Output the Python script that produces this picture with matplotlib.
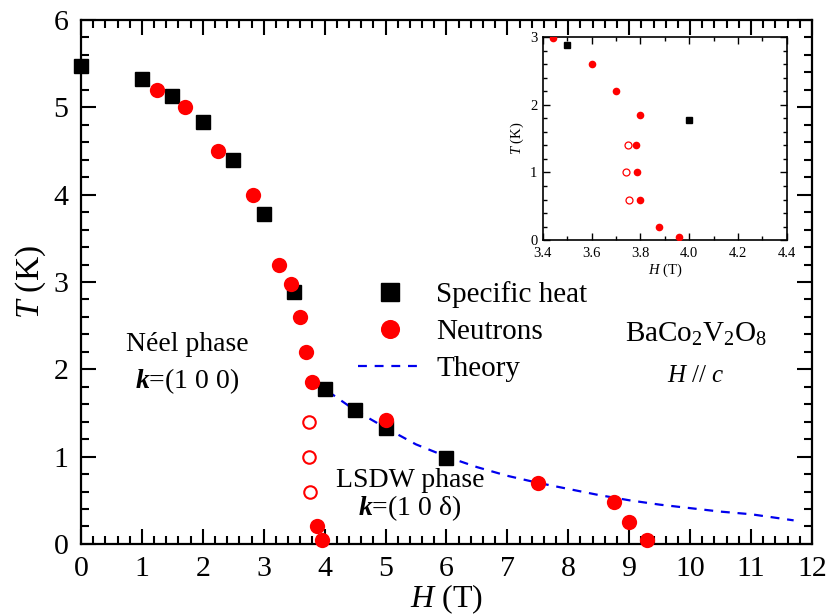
import matplotlib
matplotlib.use("Agg")
import matplotlib.pyplot as plt
from matplotlib.ticker import MultipleLocator

plt.rcParams["font.family"] = "Liberation Serif"
plt.rcParams["mathtext.fontset"] = "custom"
plt.rcParams["mathtext.rm"] = "Liberation Serif"
plt.rcParams["mathtext.it"] = "Liberation Serif:italic"
plt.rcParams["mathtext.bf"] = "Liberation Serif:bold:italic"

# specific heat (black squares)
heat_h = [0.0, 1.0, 1.5, 2.0, 2.5, 3.0, 3.5, 4.0, 4.5, 5.0, 6.0]
heat_t = [5.47, 5.33, 5.13, 4.83, 4.40, 3.78, 2.88, 1.78, 1.53, 1.33, 0.98]

# neutrons (red filled circles)
neut_h = [1.25, 1.7, 2.25, 2.83, 3.25, 3.44, 3.6, 3.7, 3.8, 3.875, 3.96,
          5.0, 7.5, 8.75, 9.0, 9.3]
neut_t = [5.2, 5.0, 4.5, 4.0, 3.2, 2.98, 2.6, 2.2, 1.85, 0.2, 0.05,
          1.42, 0.70, 0.48, 0.25, 0.05]

# neutrons, low-T points near 3.8 T (shown filled in the inset)
neut_mid_h = [3.78, 3.785, 3.8]
neut_mid_t = [1.4, 1.0, 0.6]

# open circles
open_h = [3.75, 3.74, 3.755]
open_t = [1.4, 1.0, 0.6]

# theory (dashed blue)
theo_h = [4.05, 4.5, 5.0, 5.5, 6.0, 6.5, 7.0, 7.5, 8.0, 8.5, 9.0, 9.5,
          10.0, 10.5, 11.0, 11.7]
theo_t = [1.75, 1.53, 1.33, 1.14, 1.0, 0.88, 0.78, 0.70, 0.63, 0.56, 0.50,
          0.45, 0.41, 0.37, 0.34, 0.27]

fig = plt.figure(figsize=(8.3, 6.16), dpi=100)
ax = fig.add_axes([0.0976, 0.117, 0.8806, 0.8505])

ax.plot(theo_h, theo_t, ls=(0, (4, 3.5)), color="#0000ee", lw=1.6, label="Theory", zorder=2)
ax.plot(heat_h, heat_t, "s", color="black", ms=10, label="Specific heat", zorder=3, clip_on=False)
ax.plot(neut_h, neut_t, "o", color="#ff0000", ms=11, mec="none", label="Neutrons", zorder=4, clip_on=False)
ax.plot(open_h, open_t, "o", mfc="white", mec="#ff0000", mew=1.5, ms=9, zorder=4)

ax.set_xlim(0, 12)
ax.set_ylim(0, 6)
ax.xaxis.set_major_locator(MultipleLocator(1))
ax.xaxis.set_minor_locator(MultipleLocator(0.2))
ax.yaxis.set_major_locator(MultipleLocator(1))
ax.yaxis.set_minor_locator(MultipleLocator(0.2))
ax.tick_params(which="both", direction="in", top=True, right=True, width=1.5)
ax.tick_params(which="major", length=11, labelsize=21.5)
ax.tick_params(axis="x", which="major", pad=9)
ax.tick_params(axis="y", which="major", pad=9)
ax.tick_params(which="minor", length=6)
for s in ax.spines.values():
    s.set_linewidth(1.6)
ax.set_xlabel(r"$H$ (T)", fontsize=23, labelpad=0)
ax.set_ylabel(r"$T$ (K)", fontsize=24, labelpad=4)

handles, labels = ax.get_legend_handles_labels()
order = [1, 2, 0]
ax.legend([handles[i] for i in order], [labels[i] for i in order],
          loc="upper left", bbox_to_anchor=(0.379, 0.502), frameon=False,
          fontsize=21, handlelength=2.2, handletextpad=0.48, labelspacing=0.36,
          borderpad=0, borderaxespad=0, markerscale=1.25)

ax.text(10.1, 2.4, r"BaCo$_2$V$_2$O$_8$", fontsize=21, ha="center", va="center")
ax.text(10.1, 1.92, r"$H$ // $c$", fontsize=18, ha="center", va="center")
ax.text(1.75, 2.28, "Néel phase", fontsize=20, ha="center", va="center")
ax.text(1.75, 1.86, r"$\mathbf{k}$=(1 0 0)", fontsize=20, ha="center", va="center")
ax.text(5.4, 0.73, "LSDW phase", fontsize=20, ha="center", va="center")
ax.text(5.4, 0.41, r"$\mathbf{k}$=(1 0 δ)", fontsize=20, ha="center", va="center")

# inset
ins = fig.add_axes([0.654, 0.610, 0.294, 0.330])
ins.plot(heat_h, heat_t, "s", color="black", ms=4.5, zorder=3)
ins.plot(neut_h, neut_t, "o", color="#ff0000", ms=5.5, mec="none", zorder=4)
ins.plot(neut_mid_h, neut_mid_t, "o", color="#ff0000", ms=5.5, mec="none", zorder=4)
ins.plot(open_h, open_t, "o", mfc="white", mec="#ff0000", mew=0.9, ms=5, zorder=4)
ins.set_xlim(3.4, 4.4)
ins.set_ylim(0, 3)
ins.xaxis.set_major_locator(MultipleLocator(0.2))
ins.xaxis.set_minor_locator(MultipleLocator(0.1))
ins.yaxis.set_major_locator(MultipleLocator(1))
ins.yaxis.set_minor_locator(MultipleLocator(0.2))
ins.xaxis.set_major_formatter(plt.FormatStrFormatter("%.1f"))
ins.tick_params(which="both", direction="in", top=True, right=True, width=1.0)
ins.tick_params(which="major", length=5, labelsize=10.5)
ins.tick_params(axis="x", which="major", pad=5)
ins.tick_params(axis="y", which="major", pad=4)
ins.tick_params(which="minor", length=3)
for s in ins.spines.values():
    s.set_linewidth(1.2)
ins.set_xlabel(r"$H$ (T)", fontsize=10.5, labelpad=1)
ins.set_ylabel(r"$T$ (K)", fontsize=10.5, labelpad=3)

fig.savefig("out.png", dpi=100)
